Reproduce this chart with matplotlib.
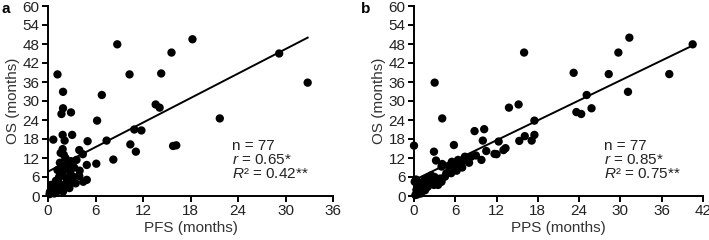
import matplotlib
matplotlib.use('Agg')
import matplotlib.pyplot as plt
import numpy as np

plt.rcParams['font.family'] = ['Liberation Sans', 'DejaVu Sans']
plt.rcParams['mathtext.fontset'] = 'custom'
plt.rcParams['mathtext.rm'] = 'Liberation Sans'
plt.rcParams['mathtext.it'] = 'Liberation Sans:italic'

# panel a: PFS vs OS (months)
pfs = [18.25, 8.75, 15.6, 29.2, 1.2, 10.3, 14.3, 32.8, 1.9, 6.8,
       1.9, 1.7, 2.9, 13.6, 14.1, 6.2, 21.7, 1.85, 3.05, 0.67,
       2.1, 5.0, 7.4, 10.9, 11.8, 10.4, 11.1, 15.8, 16.2, 8.25,
       6.1, 1.85, 1.6, 2.0, 3.95, 4.4, 3.6, 2.6, 4.9, 4.0,
       4.9, 4.45, 3.95, 3.2, 2.8, 2.55, 2.1, 1.7, 1.9, 1.3,
       0.9, 0.5, 0.2, 1.5, 2.4, 3.0, 1.1, 1.9, 0.6, 2.4,
       1.6, 2.6, 1.3, 0.25, 1.0, 2.2, 1.8, 0.8, 2.9, 1.5,
       3.5, 2.2, 1.4, 0.4, 2.7, 1.2, 3.3]
os_a = [49.5, 47.9, 45.3, 45.0, 38.4, 38.4, 38.7, 35.8, 32.9, 31.9,
        27.7, 25.9, 26.4, 28.9, 27.9, 23.8, 24.5, 19.3, 19.3, 17.8,
        17.5, 17.3, 17.5, 21.0, 20.7, 16.3, 14.0, 15.8, 16.0, 11.5,
        10.2, 14.8, 13.6, 13.0, 14.5, 13.2, 11.4, 10.4, 9.8, 8.0,
        5.1, 4.5, 6.3, 6.1, 7.7, 5.6, 8.5, 9.3, 6.5, 4.5,
        3.5, 1.9, 0.6, 1.9, 2.9, 4.5, 1.4, 1.4, 2.7, 5.1,
        7.2, 9.3, 2.9, 1.3, 4.8, 3.8, 2.2, 0.8, 11.0, 10.5,
        4.0, 12.0, 6.0, 3.5, 2.5, 8.2, 9.0]

# panel b: PPS vs OS (months)
pps = [31.3, 29.7, 40.5, 16.0, 3.0, 23.2, 28.3, 37.1, 31.1, 25.1,
       23.6, 24.3, 25.8, 15.2, 13.8, 4.1, 0.0, 5.8, 8.8, 10.2,
       10.0, 12.3, 16.1, 17.5, 17.5, 17.1, 15.3, 2.9, 3.2, 4.1,
       10.5, 11.7, 13.0, 13.3, 9.8, 8.3, 7.8, 6.9, 5.9, 5.4,
       4.5, 3.5, 2.9, 2.3, 1.8, 1.3, 0.8, 0.2, 0.1, 0.35,
       1.1, 2.0, 3.5, 7.4, 6.4, 4.7, 4.0, 12.0, 9.0, 7.0,
       5.0, 2.5, 1.5, 0.6, 1.0, 0.3, 2.0, 3.0, 4.0, 1.6,
       0.5, 6.2, 8.0, 3.8, 2.6, 0.9, 5.5]
os_b = [50.0, 45.3, 47.9, 45.3, 35.8, 38.9, 38.5, 38.5, 32.9, 31.9,
        26.5, 25.9, 27.7, 28.9, 27.9, 24.5, 15.9, 16.1, 20.5, 21.1,
        17.5, 17.2, 18.9, 19.3, 23.8, 17.5, 17.4, 14.0, 11.2, 10.1,
        14.2, 13.3, 14.5, 15.1, 11.4, 12.4, 11.4, 10.3, 9.3, 7.2,
        6.1, 5.1, 3.5, 5.1, 3.5, 2.4, 1.4, 0.3, 4.5, 1.9,
        4.2, 2.9, 3.5, 12.4, 11.4, 7.2, 9.3, 13.2, 12.8, 9.0,
        9.5, 6.5, 5.0, 3.0, 0.8, 5.2, 5.8, 6.0, 4.5, 1.8,
        0.5, 8.0, 10.5, 5.5, 4.2, 2.2, 10.8]

# regression lines: (intercept, slope, x end)
fit_a = (7.7, 1.29, 32.8)
fit_b = (5.0, 1.05, 40.7)

stats_a = ['n = 77', r'$r$ = 0.65*', r'$R$² = 0.42**']
stats_b = ['n = 77', r'$r$ = 0.85*', r'$R$² = 0.75**']

fig = plt.figure(figsize=(7.09, 2.4), dpi=100)
ax_a = fig.add_axes([48 / 709, 44 / 240, 285 / 709, 190 / 240])
ax_b = fig.add_axes([414 / 709, 44 / 240, 289 / 709, 190 / 240])

panels = [
    (ax_a, pfs, os_a, fit_a, stats_a, 'PFS (months)', 36, 'a', 23.3, 2),
    (ax_b, pps, os_b, fit_b, stats_b, 'PPS (months)', 42, 'b', 27.6, 361),
]

for ax, x, y, fit, stats, xlabel, xmax, letter, tx, lx in panels:
    ax.scatter(x, y, s=36, color='black', edgecolors='none', zorder=3, clip_on=False)
    xs = np.array([0, fit[2]])
    ax.plot(xs, fit[0] + fit[1] * xs, color='black', lw=1.4, zorder=2)
    ax.set_xlim(0, xmax)
    ax.set_ylim(0, 60)
    ax.set_xticks(np.arange(0, xmax + 1, 6))
    ax.set_yticks(np.arange(0, 61, 6))
    for s in ['top', 'right']:
        ax.spines[s].set_visible(False)
    for s in ['left', 'bottom']:
        ax.spines[s].set_linewidth(1.4)
    ax.tick_params(direction='out', length=4, width=1.4, labelsize=11,
                   labelcolor='#222222', pad=2)
    ax.set_xlabel(xlabel, fontsize=11, color='#333333', labelpad=2)
    ax.set_ylabel('OS (months)', fontsize=11, color='#333333', labelpad=2)
    for i, t in enumerate(stats):
        ax.text(tx, 15.9 - 4.55 * i, t, fontsize=11, color='#222222',
                ha='left', va='center')
    fig.text(lx / 709, 1 - 2 / 240, letter, fontsize=11, fontweight='bold',
             ha='left', va='top')

fig.savefig('out.png', dpi=100)
